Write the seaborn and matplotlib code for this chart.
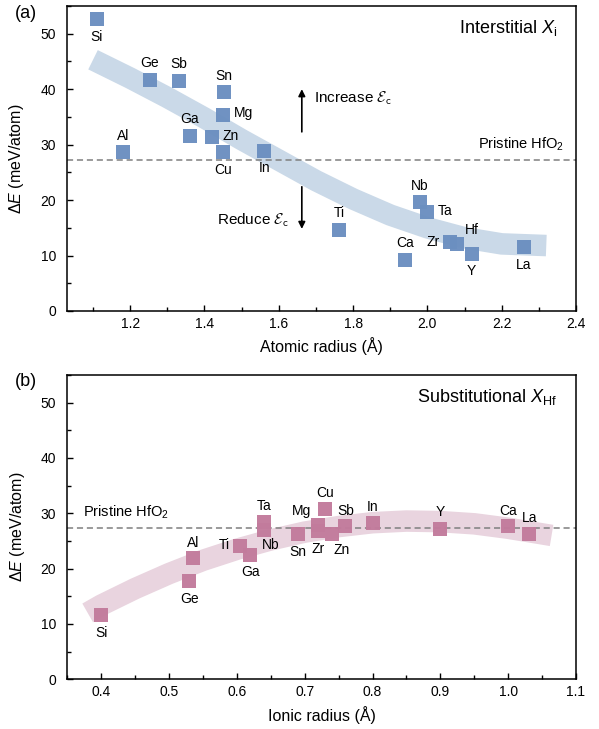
import numpy as np
import pandas as pd
import matplotlib
matplotlib.use("Agg")
import matplotlib.pyplot as plt
import seaborn as sns

# ---------------- data ----------------
inter_elements = ["Si", "Ge", "Sb", "Sn", "Mg", "Ga", "Zn", "Cu", "In", "Al",
                  "Ti", "Ca", "Nb", "Ta", "Zr", "Hf", "Y", "La"]
inter_radius = [1.11, 1.252, 1.331, 1.453, 1.451, 1.361, 1.421, 1.451, 1.561, 1.182,
                1.762, 1.94, 1.98, 2.00, 2.061, 2.079, 2.119, 2.26]
inter_dE = [52.6, 41.6, 41.4, 39.5, 35.4, 31.6, 31.3, 28.75, 28.9, 28.6,
            14.6, 9.2, 19.6, 17.9, 12.4, 12.0, 10.2, 11.6]

subst_elements = ["Si", "Ge", "Al", "Ti", "Ga", "Ta", "Nb", "Sn", "Mg", "Zr",
                  "Cu", "Zn", "Sb", "In", "Y", "Ca", "La"]
subst_radius = [0.40, 0.53, 0.535, 0.605, 0.62, 0.64, 0.64, 0.69, 0.72, 0.72,
                0.73, 0.74, 0.76, 0.80, 0.90, 1.00, 1.031]
subst_dE = [11.6, 17.7, 21.95, 24.1, 22.4, 28.4, 27.0, 26.35, 27.8, 26.8,
            30.7, 26.35, 27.7, 28.3, 27.1, 27.7, 26.2]

# trend bands (read along band centre)
inter_trend_x = [1.10, 1.2, 1.3, 1.4, 1.5, 1.6, 1.7, 1.8, 1.9, 2.0, 2.1, 2.2, 2.32]
inter_trend_y = [45.3, 42.0, 38.5, 34.8, 30.9, 27.2, 23.5, 20.2, 17.3, 15.0, 13.2, 12.1, 11.8]
subst_trend_x = [0.38, 0.40, 0.45, 0.50, 0.55, 0.60, 0.65, 0.70, 0.75, 0.80, 0.85, 0.90,
                 0.95, 1.00, 1.064]
subst_trend_y = [12.0, 13.4, 16.4, 19.1, 21.5, 23.5, 25.2, 26.6, 27.6, 28.3, 28.6, 28.5,
                 28.1, 27.3, 26.0]

pristine_dE = 27.3
arrow_x = 1.662

inter_xticks = [1.2, 1.4, 1.6, 1.8, 2.0, 2.2, 2.4]
subst_xticks = [0.4, 0.5, 0.6, 0.7, 0.8, 0.9, 1.0, 1.1]
yticks = [0, 10, 20, 30, 40, 50]

# ---------------- label placement (pixel offsets, style only) ----------------
inter_lab = {
    "Si": (0, -18, "center"), "Ge": (0, 17, "center"), "Sb": (0, 17, "center"),
    "Sn": (0, 16, "center"), "Mg": (10, 2, "left"), "Ga": (0, 17, "center"),
    "Zn": (10, 1, "left"), "Cu": (0, -18, "center"), "In": (0, -17, "center"),
    "Al": (0, 16, "center"), "Ti": (0, 17, "center"), "Ca": (0, 17, "center"),
    "Nb": (0, 16, "center"), "Ta": (10, 1, "left"), "Zr": (-10, 0, "right"),
    "Hf": (15, 14, "center"), "Y": (0, -17, "center"), "La": (0, -18, "center"),
}
subst_lab = {
    "Si": (0, -18, "center"), "Ge": (0, -18, "center"), "Al": (0, 15, "center"),
    "Ti": (-10, 1, "right"), "Ga": (0, -17, "center"), "Ta": (0, 16, "center"),
    "Nb": (7, -15, "center"), "Sn": (0, -18, "center"), "Mg": (-17, 14, "center"),
    "Zr": (0, -18, "center"), "Cu": (0, 16, "center"), "Zn": (10, -16, "center"),
    "Sb": (0, 15, "center"), "In": (0, 16, "center"), "Y": (0, 17, "center"),
    "Ca": (0, 15, "center"), "La": (0, 16, "center"),
}

# ---------------- style ----------------
sns.set_theme(style="ticks")
plt.rcParams["font.family"] = ["Liberation Sans", "DejaVu Sans"]
plt.rcParams.update({
    "mathtext.fontset": "custom",
    "mathtext.rm": "Liberation Sans",
    "mathtext.it": "Liberation Sans:italic",
    "mathtext.bf": "Liberation Sans:bold",
    "axes.linewidth": 1.1,
    "axes.edgecolor": "black",
    "xtick.direction": "in",
    "ytick.direction": "in",
    "xtick.color": "black",
    "ytick.color": "black",
    "text.color": "black",
    "axes.labelcolor": "black",
})

blue = "#6b8fc0"
blue_band = "#cad9e8"
pink = "#c27b9c"
pink_band = "#e9d4df"

fig = plt.figure(figsize=(5.99, 7.29), dpi=100)
ax1 = fig.add_axes([0.1119, 0.5734, 0.9616 - 0.1119, 0.9918 - 0.5734])
ax2 = fig.add_axes([0.1124, 0.0682, 0.9616 - 0.1124, 0.4856 - 0.0682])

df_i = pd.DataFrame({"r": inter_radius, "E": inter_dE, "el": inter_elements})
df_s = pd.DataFrame({"r": subst_radius, "E": subst_dE, "el": subst_elements})
tr_i = pd.DataFrame({"r": inter_trend_x, "E": inter_trend_y})
tr_s = pd.DataFrame({"r": subst_trend_x, "E": subst_trend_y})

for ax, df, tr, col, bcol, labs in [
    (ax1, df_i, tr_i, blue, blue_band, inter_lab),
    (ax2, df_s, tr_s, pink, pink_band, subst_lab),
]:
    sns.lineplot(data=tr, x="r", y="E", ax=ax, color=bcol, linewidth=15.5,
                 sort=False, estimator=None, solid_capstyle="butt", zorder=1)
    ax.axhline(pristine_dE, color="#7f7f7f", linestyle=(0, (4, 2.5)), linewidth=1.1, zorder=2)
    sns.scatterplot(data=df, x="r", y="E", ax=ax, marker="s", s=105, color=col,
                    linewidth=0, zorder=3, alpha=0.97)
    for _, row in df.iterrows():
        dx, dy, ha = labs[row["el"]]
        ax.annotate(row["el"], (row["r"], row["E"]), xytext=(dx, dy),
                    textcoords="offset pixels", ha=ha, va="center", fontsize=10,
                    zorder=4)
    ax.set_ylim(0, 55)
    ax.set_yticks(yticks)
    ax.yaxis.set_minor_locator(matplotlib.ticker.MultipleLocator(5))
    ax.tick_params(which="major", length=4.5, width=1.0, labelsize=10)
    ax.tick_params(which="minor", length=3, width=1.0)
    ax.tick_params(axis="y", pad=8)
    ax.tick_params(axis="x", pad=4)
    ax.set_ylabel(r"$\Delta E$ (meV/atom)", fontsize=11.5, labelpad=10)
    for s in ax.spines.values():
        s.set_visible(True)
        s.set_linewidth(1.1)

ax1.set_xlim(1.03, 2.4)
ax1.set_xticks(inter_xticks)
ax1.set_xticklabels([f"{v:.1f}" for v in inter_xticks])
ax1.xaxis.set_minor_locator(matplotlib.ticker.MultipleLocator(0.1))
ax1.set_xlabel("Atomic radius (Å)", fontsize=11.5, labelpad=5)

ax2.set_xlim(0.35, 1.1)
ax2.set_xticks(subst_xticks)
ax2.set_xticklabels([f"{v:.1f}" for v in subst_xticks])
ax2.xaxis.set_minor_locator(matplotlib.ticker.MultipleLocator(0.05))
ax2.set_xlabel("Ionic radius (Å)", fontsize=11.5, labelpad=5)

# annotations
ax1.text(0.962, 0.927, r"Interstitial $X_\mathrm{i}$", transform=ax1.transAxes,
         ha="right", va="center", fontsize=13)
ax2.text(0.962, 0.927, r"Substitutional $X_\mathrm{Hf}$", transform=ax2.transAxes,
         ha="right", va="center", fontsize=13)
ax1.text(2.367, 30.1, r"Pristine HfO$_2$", ha="right", va="center", fontsize=10.5)
ax2.text(0.373, 30.1, r"Pristine HfO$_2$", ha="left", va="center", fontsize=10.5)

ax1.annotate("", xy=(arrow_x, 40.0), xytext=(arrow_x, 32.3),
             arrowprops=dict(arrowstyle="-|>", color="black", lw=1.2,
                             mutation_scale=10, shrinkA=0, shrinkB=0))
ax1.annotate("", xy=(arrow_x, 14.8), xytext=(arrow_x, 22.4),
             arrowprops=dict(arrowstyle="-|>", color="black", lw=1.2,
                             mutation_scale=10, shrinkA=0, shrinkB=0))
ax1.text(1.696, 38.4, r"Increase $\mathcal{E}_\mathsf{c}$", ha="left", va="center",
         fontsize=11, math_fontfamily="cm")
ax1.text(1.628, 16.3, r"Reduce $\mathcal{E}_\mathsf{c}$", ha="right", va="center",
         fontsize=11, math_fontfamily="cm")

fig.text(0.025, 0.982, "(a)", ha="left", va="center", fontsize=13)
fig.text(0.025, 0.476, "(b)", ha="left", va="center", fontsize=13)

fig.savefig("out.png", dpi=100)
